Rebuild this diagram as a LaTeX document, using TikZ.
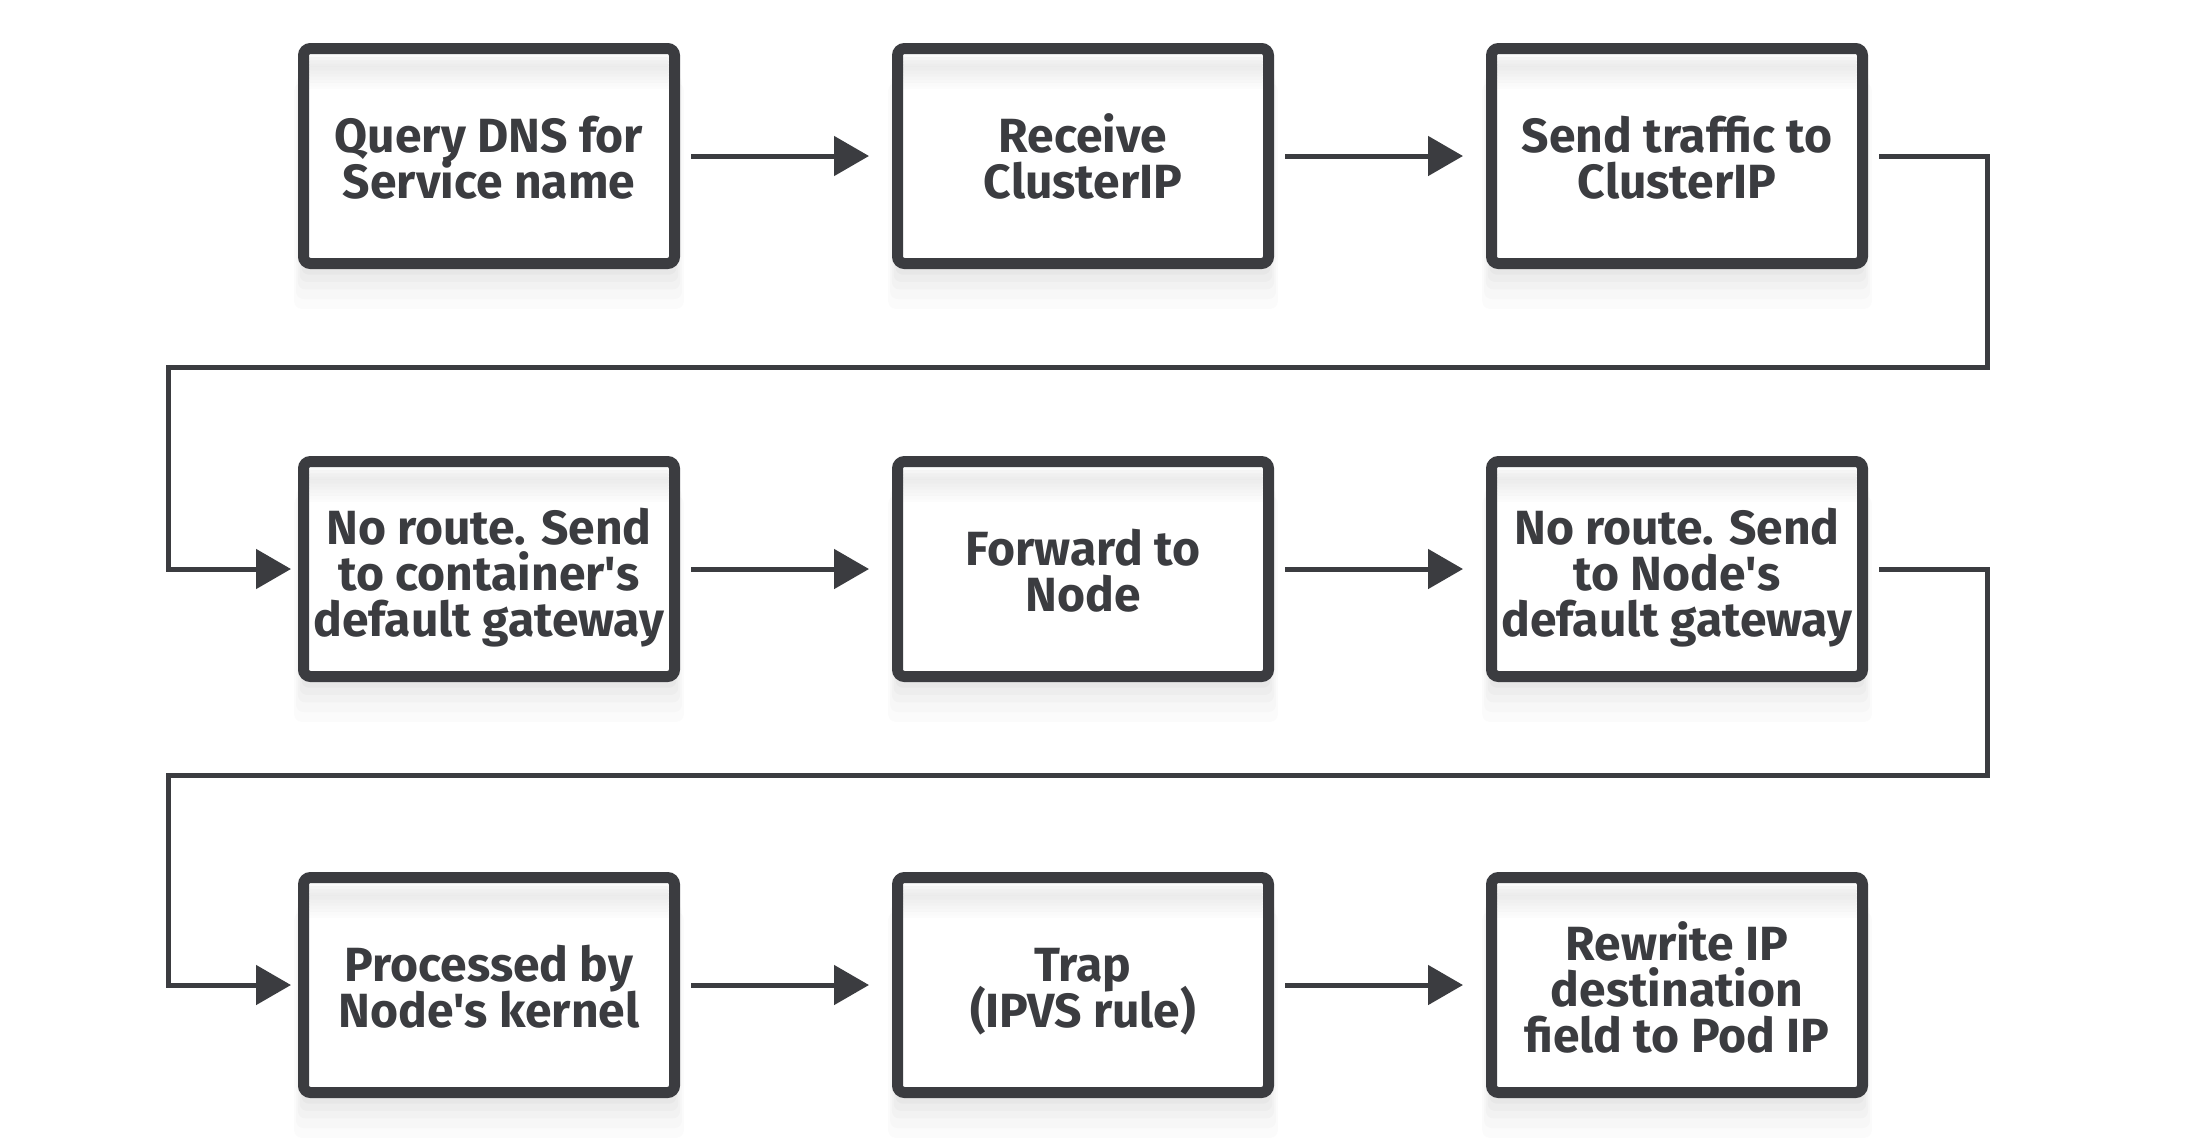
\documentclass[tikz,border=0pt]{standalone}
\usepackage{fontspec}
\setmainfont{Fira Sans}
\usetikzlibrary{arrows.meta,shadows}
\definecolor{ink}{HTML}{3B3C40}
% lines stacked 23pt apart, first baseline raised by #1, box of zero height and depth
\newcommand\boxlines[2]{\raisebox{#1}[0pt][0pt]{\vtop{\baselineskip=23pt\lineskiplimit=-100pt
  \halign{\hfil##\hfil\cr#2\crcr}}}}
\newcommand\twolines[1]{\boxlines{2pt}{#1}}
\newcommand\threelines[1]{\boxlines{12.25pt}{#1}}
\begin{document}
\begin{tikzpicture}[x=0.5pt,y=-0.5pt,
  stepbox/.style={draw=ink, line width=5.5pt, rounded corners=3.5pt, fill=white,
    minimum width=185.5pt, minimum height=107.5pt, outer sep=0pt, inner sep=0pt,
    font=\bfseries\fontsize{24}{23}\selectfont, text=ink,
    general shadow={fill=black, opacity=0.014, shadow yshift=-19pt, shadow scale=1.05},
    general shadow={fill=black, opacity=0.016, shadow yshift=-15pt, shadow scale=1.04},
    general shadow={fill=black, opacity=0.018, shadow yshift=-11pt, shadow scale=1.03},
    general shadow={fill=black, opacity=0.02, shadow yshift=-8pt, shadow scale=1.02},
    general shadow={fill=black, opacity=0.022, shadow yshift=-5pt, shadow scale=1.01},
    general shadow={fill=black, opacity=0.025, shadow yshift=-2.5pt, shadow scale=1.0},
    path picture={
      \foreach \o [count=\i from 0] in {0.015,0.04,0.06,0.07,0.07,0.06,0.05,0.04,0.03,0.02,0.01}{
        \fill[black, opacity=\o]
          ([yshift={-2.75pt-\i*1.6pt}]path picture bounding box.north west) rectangle
          ([yshift={-2.75pt-(\i+1)*1.6pt}]path picture bounding box.north east);
      }}},
  flow/.style={draw=ink, line width=2.5pt, -{Triangle[length=17.5pt,width=19.5pt]}},
  rowarrow/.style={flow, shorten <=8.25pt, shorten >=14.25pt},
  wrap/.style={flow, shorten <=8.25pt, shorten >=6.25pt}
]
\useasboundingbox[fill=white] (0,0) rectangle (2188,1147);

\node[stepbox] (b1) at (489,156) {\twolines{Query DNS for\cr Service name}};
\node[stepbox] (b2) at (1083,156) {\twolines{Receive\cr ClusterIP}};
\node[stepbox] (b3) at (1677,156) {\twolines{Send traffic to\cr ClusterIP}};

\node[stepbox] (b4) at (489,569) {\threelines{No route. Send\cr to container\textquotesingle s\cr default gateway}};
\node[stepbox] (b5) at (1083,569) {\twolines{Forward to\cr Node}};
\node[stepbox] (b6) at (1677,569) {\threelines{No route. Send\cr to Node\textquotesingle s\cr default gateway}};

\node[stepbox] (b7) at (489,985) {\twolines{Processed by\cr Node\textquotesingle s kernel}};
\node[stepbox] (b8) at (1083,985) {\twolines{Trap\cr (IPVS rule)}};
\node[stepbox] (b9) at (1677,985) {\threelines{Rewrite IP\cr destination\cr field to Pod IP}};

\draw[rowarrow] (b1.east) -- (b2.west);
\draw[rowarrow] (b2.east) -- (b3.west);
\draw[rowarrow] (b4.east) -- (b5.west);
\draw[rowarrow] (b5.east) -- (b6.west);
\draw[rowarrow] (b7.east) -- (b8.west);
\draw[rowarrow] (b8.east) -- (b9.west);

\coordinate (r1) at (1987,367);
\coordinate (l1) at (168,367);
\coordinate (r2) at (1987,775);
\coordinate (l2) at (168,775);
\draw[wrap] (b3.east) -| (r1) -- (l1) |- (b4.west);
\draw[wrap] (b6.east) -| (r2) -- (l2) |- (b7.west);
\end{tikzpicture}
\end{document}
